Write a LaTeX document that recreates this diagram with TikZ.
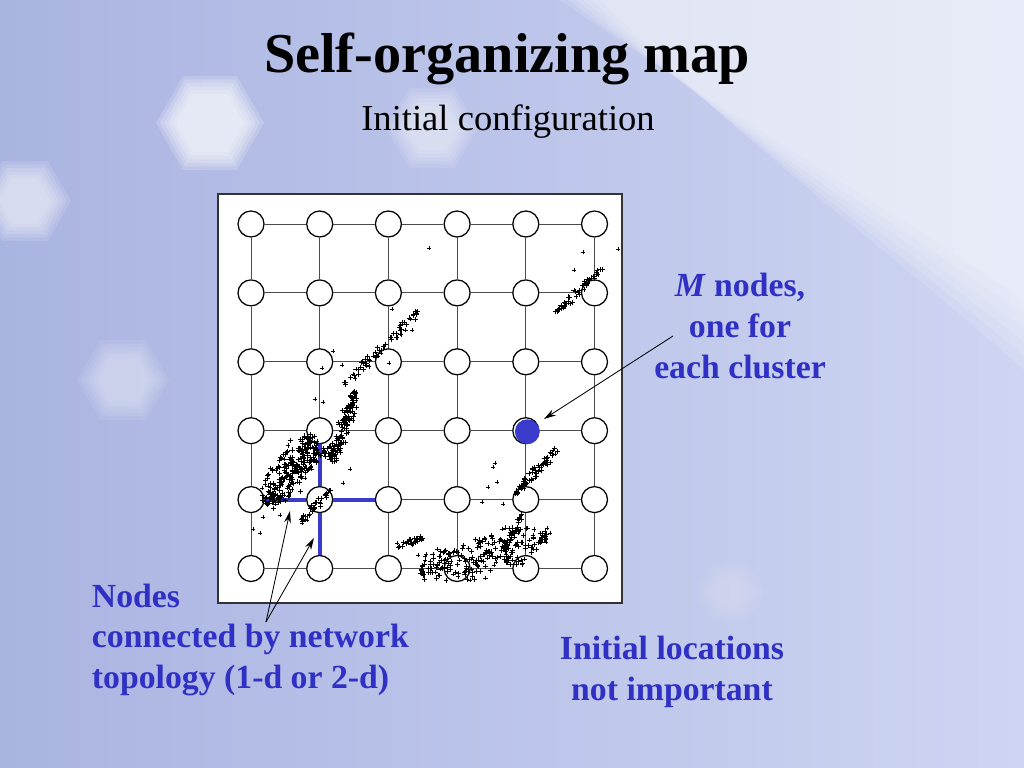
\documentclass[tikz,border=0pt]{standalone}
\usepackage{fontspec}
\setmainfont{Liberation Serif}
\usetikzlibrary{arrows.meta}

\definecolor{bgdark}{RGB}{170,180,225}
\definecolor{bglight}{RGB}{206,213,242}
\definecolor{noteblue}{RGB}{48,48,196}
\definecolor{somblue}{RGB}{58,58,204}

% one band of sample points: x0 y0 x1 y1 half-width count
\newcommand{\scatterband}[6]{%
  \pgfmathsetmacro{\bandlen}{veclen(#3-#1,#4-#2)}
  \foreach \i in {1,...,#6}{
    \pgfmathsetmacro{\tpos}{rnd}
    \pgfmathsetmacro{\spos}{#5*(rand+rand)/2*(0.45+0.55*sin(180*\tpos))}
    \pgfmathsetmacro{\ppx}{#1+\tpos*(#3-#1)-\spos*(#4-#2)/\bandlen}
    \pgfmathsetmacro{\ppy}{#2+\tpos*(#4-#2)+\spos*(#3-#1)/\bandlen}
    \draw[dotplus] (\ppx,\ppy) +(-2.4,0) -- +(2.4,0) +(0,-2.4) -- +(0,2.4);
  }}

\begin{document}
\begin{tikzpicture}[x=0.025cm, y=-0.025cm,
  somnode/.style={circle, draw=black, fill=white, line width=0.9pt, minimum size=0.65cm, inner sep=0pt},
  gridline/.style={draw=black!70, line width=0.6pt},
  topo/.style={draw=somblue, line width=2.8pt},
  dotplus/.style={draw=black, line width=0.45pt},
  note/.style={text=noteblue, font=\fontsize{24}{29}\selectfont\bfseries},
  pointer/.style={-{Stealth[length=3mm,width=1.7mm]}, line width=0.6pt}]
\useasboundingbox (0,0) rectangle (1024,768);

% background of the slide
\fill[left color=bgdark, right color=bglight] (0,0) rectangle (1024,768);
\foreach \k in {0,...,5}
  \fill[white, opacity=0.13] ({560+8*\k},0) .. controls ({720+8*\k},{110+10*\k}) and ({860+6*\k},{190+12*\k}) .. (1024,{300+14*\k}) -- (1024,0) -- cycle;
% soft hexagonal glows
\foreach \cx/\cy/\r/\op in {210/123/46/0.18, 25/201/38/0.12, 123/380/38/0.08, 432/128/38/0.1, 730/592/26/0.04}
  \foreach \k in {0,...,5}
    \fill[white, opacity=\op] (\cx,\cy) +(0:\r+8-4*\k) -- +(60:\r+8-4*\k) -- +(120:\r+8-4*\k) -- +(180:\r+8-4*\k) -- +(240:\r+8-4*\k) -- +(300:\r+8-4*\k) -- cycle;

% titles
\node[font=\fontsize{40}{48}\selectfont\bfseries, anchor=base] (title) at (507,73) {Self-organizing map};
\node[font=\fontsize{26}{31}\selectfont, anchor=base] (subtitle) at (508,131) {Initial configuration};

% map frame
\draw[fill=white, draw=black!80, line width=0.8pt] (218,194) rectangle (622,603);

% the 6x6 grid of nodes
\foreach \c in {0,...,5}
  \foreach \r in {0,...,5}
    \node[somnode] (n-\c-\r) at ({251+68.7*\c},{224+68.9*\r}) {};
\foreach \c [evaluate=\c as \cn using int(\c+1)] in {0,...,4}
  \foreach \r in {0,...,5}{
    \draw[gridline] (n-\c-\r) -- (n-\cn-\r);
    \draw[gridline] (n-\r-\c) -- (n-\r-\cn);
  }

% neighbourhood of one node
\draw[topo] (n-1-4) -- (n-0-4);
\draw[topo] (n-1-4) -- (n-2-4);
\draw[topo] (n-1-4) -- (n-1-3);
\draw[topo] (n-1-4) -- (n-1-5);

% winner node
\fill[somblue] ([shift={(1.5,1)}]n-4-3.center) circle[radius=0.31cm];

% data points
\pgfmathsetseed{7}
\scatterband{556}{313}{602}{268}{5}{50}
\scatterband{344}{383}{418}{312}{7}{65}
\scatterband{266}{504}{314}{436}{23}{230}
\scatterband{295}{472}{338}{444}{9}{55}
\scatterband{333}{462}{356}{392}{9}{110}
\scatterband{300}{523}{332}{489}{5}{40}
\scatterband{514}{494}{556}{450}{7}{65}
\scatterband{397}{548}{423}{537}{5}{28}
\scatterband{420}{570}{548}{538}{27}{230}
\scatterband{505}{545}{524}{516}{8}{35}
\foreach \p in {(429,248),(618,249),(583,252),(574,270),(392,309),(412,330),(333,351),(342,365),(389,363),(322,368),(315,399),(323,402),(350,469),(343,483),(262,488),(253,529),(260,533),(263,517),(280,515),(495,463),(493,467),(497,482),(488,487),(482,502),(503,504),(540,533),(550,533),(547,528),(397,543),(420,573),(430,568),(470,580),(418,555),(425,560)}
  \draw[dotplus] \p +(-2.4,0) -- +(2.4,0) +(0,-2.4) -- +(0,2.4);

% notes and pointers
\node[note, align=center] (mnote) at (740,326) {\textit{M} nodes,\\one for\\each cluster};
\coordinate (mtail) at (673,336);
\draw[pointer, shorten >=2mm] (mtail) -- (n-4-3);

\node[note, align=left, anchor=west] (topnote) at (87,640) {Nodes\\connected by network\\topology (1-d or 2-d)};
\coordinate (ttail) at (266,622);
\coordinate (blobA) at (290,511);
\coordinate (blobB) at (314,538);
\draw[pointer] (ttail) -- (blobA);
\draw[pointer] (ttail) -- (blobB);

\node[note, align=center] (locnote) at (672,672) {Initial locations\\not important};
\end{tikzpicture}
\end{document}
